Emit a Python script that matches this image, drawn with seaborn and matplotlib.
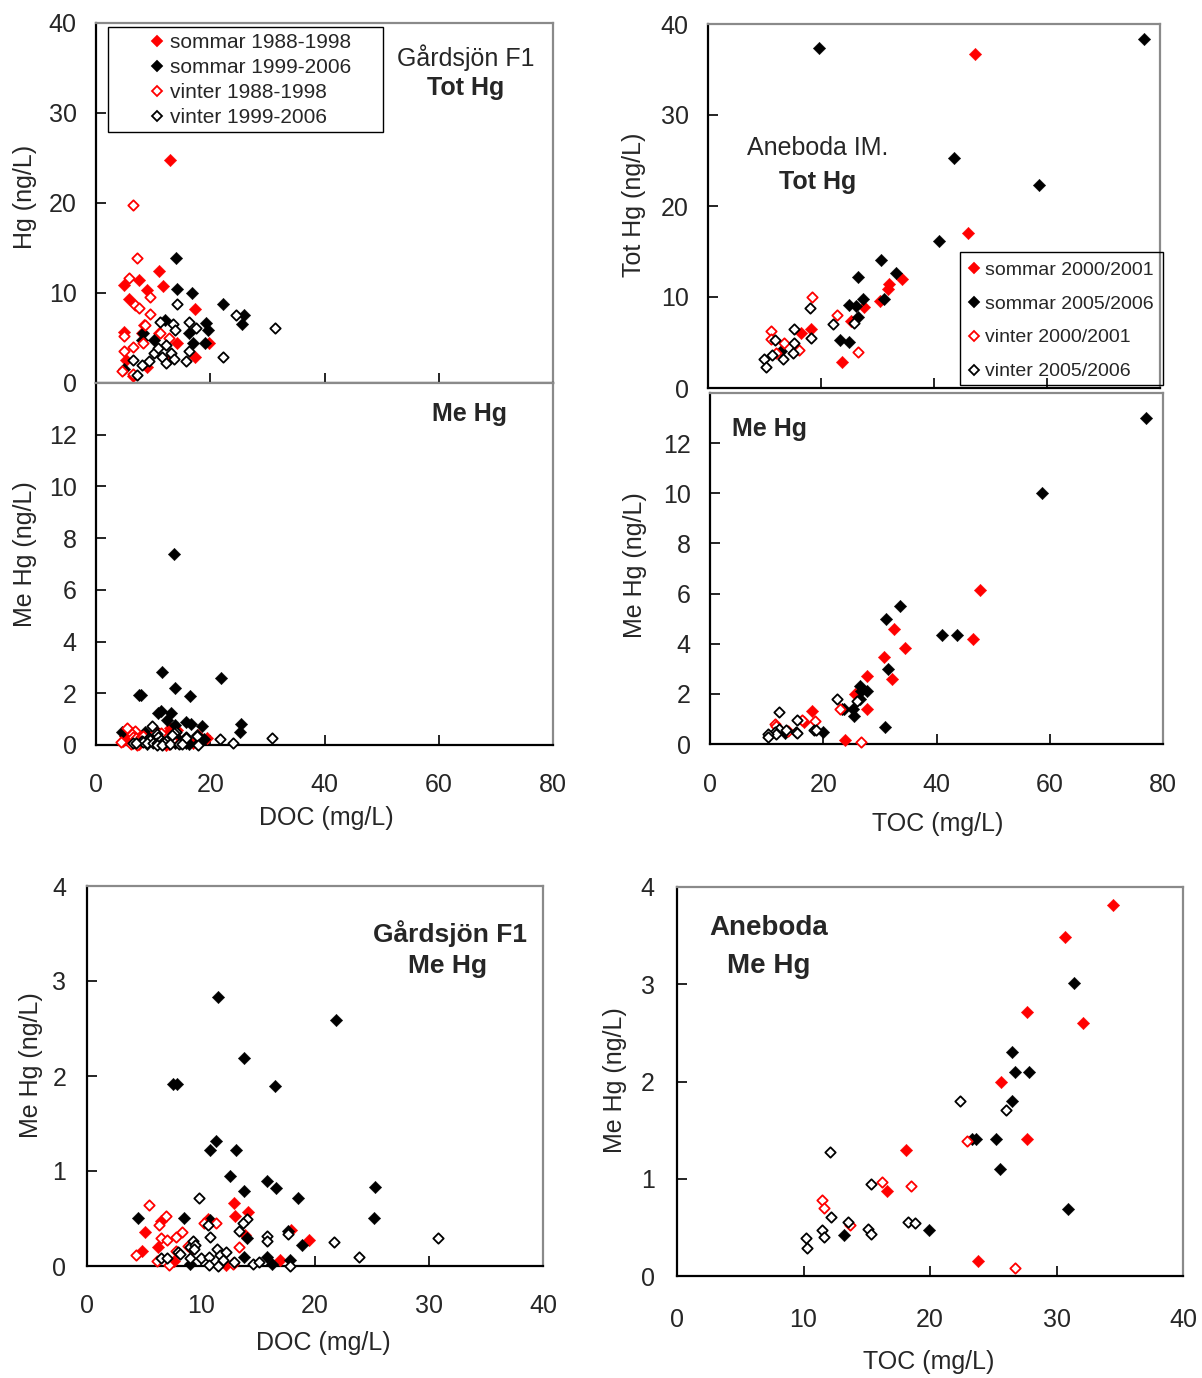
import pandas as pd
import matplotlib
matplotlib.use("Agg")
import matplotlib.pyplot as plt
import seaborn as sns
from matplotlib.lines import Line2D
from matplotlib.patches import Rectangle

# ── Gårdsjön F1: Tot Hg vs DOC ────────────────────────────────────────────────
gf_tot_s88_doc = [12.9, 11.0, 7.5, 4.9, 11.7, 8.9, 5.7, 17.3, 4.9, 8.1, 11.0, 8.4, 19.8, 14.2, 17.4, 5.2, 6.4, 12.5, 9.0]
gf_tot_s88_hg = [24.8, 12.4, 11.4, 10.9, 10.8, 10.3, 9.3, 8.2, 5.7, 5.5, 5.5, 6.4, 4.4, 4.4, 2.9, 2.5, 0.8, 2.5, 1.8]
gf_tot_s99_doc = [14.0, 14.2, 16.8, 22.2, 25.9, 25.5, 19.3, 19.6, 12.0, 8.2, 16.2, 16.9, 19.1, 10.1, 4.9, 8.0]
gf_tot_s99_hg = [13.9, 10.4, 10.0, 8.8, 7.6, 6.6, 6.7, 5.9, 7.0, 5.5, 5.5, 4.4, 4.4, 4.8, 1.6, 4.8]
gf_tot_v88_doc = [6.4, 7.2, 5.8, 9.5, 6.9, 7.5, 9.5, 8.5, 4.9, 6.4, 4.9, 8.2, 11.2, 4.6, 12.8, 6.5]
gf_tot_v88_hg = [19.8, 13.9, 11.7, 9.6, 8.7, 8.3, 7.7, 6.4, 5.2, 4.0, 3.6, 4.4, 5.5, 1.3, 5.0, 1.0]
gf_tot_v99_doc = [14.2, 24.5, 31.4, 16.2, 11.2, 13.4, 13.9, 22.2, 15.7, 17.5, 16.2, 6.4, 8.1, 9.3, 10.1, 11.5, 12.2, 13.2, 13.6, 10.8, 12.2, 7.1]
gf_tot_v99_hg = [8.8, 7.6, 6.1, 6.8, 6.8, 6.6, 5.9, 2.9, 2.4, 6.1, 3.5, 2.6, 2.0, 2.4, 3.3, 2.9, 2.2, 3.3, 2.7, 3.9, 4.2, 0.9]

# ── Gårdsjön F1: Me Hg vs DOC ─────────────────────────────────────────────────
gf_me_s88_doc = [5.1, 4.8, 6.2, 6.5, 12.9, 13.0, 14.1, 10.6, 16.9, 19.5, 17.9, 12.8, 12.2, 13.9, 9.2, 7.6]
gf_me_s88_hg = [0.36, 0.16, 0.20, 0.47, 0.66, 0.53, 0.57, 0.50, 0.06, 0.27, 0.38, 0.03, 0.01, 0.33, 0.18, 0.05]
gf_me_s99_doc = [11.5, 21.8, 13.8, 7.5, 7.9, 16.5, 11.3, 10.8, 13.1, 12.5, 15.8, 16.6, 13.8, 18.5, 25.3, 25.2,
                 4.5, 8.5, 10.8, 14.0, 17.6, 18.9, 13.8, 15.8, 16.2, 17.8, 9.0, 13.6]
gf_me_s99_hg = [2.83, 2.59, 2.19, 1.92, 1.92, 1.89, 1.32, 1.22, 1.22, 0.95, 0.90, 0.82, 0.79, 0.72, 0.83, 0.51,
                0.51, 0.51, 0.48, 0.30, 0.37, 0.22, 0.09, 0.09, 0.02, 0.06, 0.02, 7.4]
gf_me_v88_doc = [5.45, 6.9, 6.3, 6.5, 7.0, 7.8, 8.3, 4.3, 7.2, 6.1, 10.3, 11.3, 13.3, 8.9, 7.8, 12.8]
gf_me_v88_hg = [0.64, 0.53, 0.43, 0.30, 0.27, 0.31, 0.36, 0.12, 0.01, 0.05, 0.45, 0.45, 0.20, 0.21, 0.16, 0.02]
gf_me_v99_doc = [9.8, 10.6, 14.0, 13.7, 13.3, 10.8, 15.8, 15.8, 17.6, 21.7, 30.8, 23.9, 9.0, 9.3, 9.5, 9.4, 8.0,
                 8.2, 6.5, 7.0, 9.0, 10.0, 10.7, 11.4, 11.7, 12.2, 11.9, 10.7, 11.5, 12.9, 14.6, 15.1, 17.8]
gf_me_v99_hg = [0.72, 0.43, 0.50, 0.45, 0.37, 0.31, 0.32, 0.26, 0.34, 0.25, 0.29, 0.09, 0.20, 0.26, 0.22, 0.18, 0.15,
                0.13, 0.08, 0.08, 0.08, 0.08, 0.09, 0.18, 0.12, 0.15, 0.06, 0.01, 0.00, 0.04, 0.02, 0.04, 0.00]

# ── Aneboda IM: Tot Hg vs TOC ─────────────────────────────────────────────────
ab_tot_s00_toc = [47.2, 46.1, 34.3, 32.1, 31.8, 30.5, 27.6, 25.3, 18.2, 16.4, 23.7]
ab_tot_s00_hg = [36.7, 17.0, 12.0, 11.4, 10.9, 9.6, 8.9, 7.4, 6.5, 6.0, 2.9]
ab_tot_s05_toc = [19.7, 77.1, 43.6, 58.6, 40.8, 30.6, 33.3, 26.5, 27.5, 31.2, 25.0, 26.2, 26.6, 23.4, 25.0, 13.0]
ab_tot_s05_hg = [37.4, 38.3, 25.3, 22.3, 16.1, 14.1, 12.6, 12.2, 9.8, 9.8, 9.1, 9.0, 7.8, 5.3, 5.1, 4.1]
ab_tot_v00_toc = [18.4, 22.8, 11.2, 13.5, 16.1, 26.5, 11.1, 12.0]
ab_tot_v00_hg = [10.0, 8.0, 6.3, 5.0, 4.2, 4.0, 5.4, 3.9]
ab_tot_v05_toc = [18.0, 22.2, 25.8, 15.3, 18.3, 11.8, 15.3, 15.0, 13.3, 11.4, 9.9, 10.2]
ab_tot_v05_hg = [8.8, 7.0, 7.1, 6.5, 5.5, 5.3, 5.0, 3.9, 3.2, 3.6, 3.2, 2.3]

# ── Aneboda IM: Me Hg vs TOC ──────────────────────────────────────────────────
ab_me_s00_toc = [34.5, 30.7, 27.7, 32.1, 25.6, 27.7, 18.1, 16.6, 23.8, 47.6, 32.5, 46.4]
ab_me_s00_hg = [3.81, 3.49, 2.71, 2.60, 2.00, 1.41, 1.30, 0.87, 0.15, 6.15, 4.60, 4.20]
ab_me_s05_toc = [31.4, 26.5, 26.7, 27.8, 26.5, 25.2, 23.3, 23.6, 25.5, 30.9, 19.9, 13.2, 77.0, 58.6, 33.5, 31.1, 40.9, 43.6]
ab_me_s05_hg = [3.01, 2.30, 2.10, 2.10, 1.80, 1.41, 1.41, 1.41, 1.10, 0.69, 0.47, 0.42, 13.0, 10.0, 5.5, 4.97, 4.33, 4.33]
ab_me_v00_toc = [22.9, 16.2, 18.5, 11.5, 11.6, 13.7, 26.7]
ab_me_v00_hg = [1.39, 0.97, 0.93, 0.78, 0.70, 0.52, 0.08]
ab_me_v05_toc = [22.4, 26.0, 12.1, 15.3, 12.2, 13.5, 15.1, 15.3, 18.3, 18.8, 11.5, 11.6, 10.2, 10.3]
ab_me_v05_hg = [1.80, 1.71, 1.28, 0.95, 0.61, 0.56, 0.48, 0.43, 0.56, 0.54, 0.47, 0.40, 0.39, 0.29]

gf_labels = ["sommar 1988-1998", "sommar 1999-2006", "vinter 1988-1998", "vinter 1999-2006"]
ab_labels = ["sommar 2000/2001", "sommar 2005/2006", "vinter 2000/2001", "vinter 2005/2006"]

# series order: summer red, summer black, winter red (open), winter black (open)
STYLES = [("#ff0000", True), ("black", True), ("#ff0000", False), ("black", False)]

gf_tot = [(gf_tot_s88_doc, gf_tot_s88_hg), (gf_tot_s99_doc, gf_tot_s99_hg),
          (gf_tot_v88_doc, gf_tot_v88_hg), (gf_tot_v99_doc, gf_tot_v99_hg)]
gf_me = [(gf_me_s88_doc, gf_me_s88_hg), (gf_me_s99_doc, gf_me_s99_hg),
         (gf_me_v88_doc, gf_me_v88_hg), (gf_me_v99_doc, gf_me_v99_hg)]
ab_tot = [(ab_tot_s00_toc, ab_tot_s00_hg), (ab_tot_s05_toc, ab_tot_s05_hg),
          (ab_tot_v00_toc, ab_tot_v00_hg), (ab_tot_v05_toc, ab_tot_v05_hg)]
ab_me = [(ab_me_s00_toc, ab_me_s00_hg), (ab_me_s05_toc, ab_me_s05_hg),
         (ab_me_v00_toc, ab_me_v00_hg), (ab_me_v05_toc, ab_me_v05_hg)]

# ── Figure setup ──────────────────────────────────────────────────────────────
sns.set_theme(style="white")
plt.rcParams["font.family"] = ["Liberation Sans", "DejaVu Sans"]

W, H = 1202, 1378
fig = plt.figure(figsize=(W / 100, H / 100), dpi=100)


def add_ax(l, t, r, b):
    return fig.add_axes([l / W, 1 - b / H, (r - l) / W, (b - t) / H])


def ftext(x, y, s, **kw):
    kw.setdefault("ha", "center")
    kw.setdefault("va", "center")
    kw.setdefault("fontsize", 18)
    fig.text(x / W, 1 - y / H, s, **kw)


def draw(ax, series, xlim, ylim):
    for (xs, ys), (col, filled) in zip(series, STYLES):
        df = pd.DataFrame({"x": xs, "y": ys})
        df = df[(df.x <= xlim[1]) & (df.y <= ylim[1])]
        if filled:
            sns.scatterplot(data=df, x="x", y="y", ax=ax, marker="D", s=40, color=col,
                            edgecolor=col, linewidth=0.3, clip_on=False, zorder=3)
        else:
            sns.scatterplot(data=df, x="x", y="y", ax=ax, marker="D", s=28, color="white",
                            edgecolor=col, linewidth=1.3, clip_on=False, zorder=4)


def style(ax, xlim, ylim, xticks, yticks, xlab=True, xpad=18, ypad=14):
    ax.set_xlim(xlim)
    ax.set_ylim(ylim)
    ax.set_xticks(xticks)
    ax.set_yticks(yticks)
    ax.set_xlabel("")
    ax.set_ylabel("")
    ax.tick_params(direction="in", length=7, width=1.2, color="black", labelsize=18)
    ax.tick_params(axis="x", pad=xpad, labelbottom=xlab, bottom=True)
    ax.tick_params(axis="y", pad=ypad, left=True)
    for sp in ax.spines.values():
        sp.set_color("#8a8a8a")
        sp.set_linewidth(1.6)
    ax.spines["left"].set_color("black")
    ax.spines["bottom"].set_color("black")
    ax.set_facecolor("white")


def legend_box(ax, labels, x0, y0, fs, spacing, rect):
    handles = []
    for col, filled in STYLES:
        handles.append(Line2D([], [], ls="none", marker="D", markersize=5.5,
                              markerfacecolor=col if filled else "white",
                              markeredgecolor=col, markeredgewidth=1.3))
    ax.legend(handles, labels, loc="upper left", bbox_to_anchor=(x0 / W, 1 - y0 / H),
              bbox_transform=fig.transFigure, frameon=False, fontsize=fs, borderpad=0,
              borderaxespad=0, handlelength=0.6, handletextpad=0.3, labelspacing=spacing)
    l, t, r, b = rect
    fig.patches.append(Rectangle((l / W, 1 - b / H), (r - l) / W, (b - t) / H, fill=False,
                                 edgecolor="black", linewidth=1.0, transform=fig.transFigure))


# ── Gårdsjön F1, Tot Hg (top left) ────────────────────────────────────────────
ax = add_ax(96, 23, 553, 383)
draw(ax, gf_tot, (0, 80), (0, 40))
style(ax, (0, 80), (0, 40), [0, 20, 40, 60, 80], [0, 10, 20, 30, 40], xlab=False)
legend_box(ax, gf_labels, 151, 33, 15, 0.29, (108, 27, 383, 132))
ftext(466, 58, "Gårdsjön F1")
ftext(466, 88, "Tot Hg", fontweight="bold")
ftext(25, 197, "Hg (ng/L)", rotation=90)

# ── Gårdsjön F1, Me Hg (middle left) ──────────────────────────────────────────
ax = add_ax(96, 383, 553, 745)
draw(ax, gf_me, (0, 80), (0, 14))
style(ax, (0, 80), (0, 14), [0, 20, 40, 60, 80], [0, 2, 4, 6, 8, 10, 12], xpad=20)
ftext(470, 414, "Me Hg", fontweight="bold")
ftext(25, 554, "Me Hg (ng/L)", rotation=90)
ftext(326, 818, "DOC (mg/L)")

# ── Aneboda IM, Tot Hg (top right) ────────────────────────────────────────────
ax = add_ax(708, 24, 1160, 388)
draw(ax, ab_tot, (0, 80), (0, 40))
style(ax, (0, 80), (0, 40), [0, 20, 40, 60, 80], [0, 10, 20, 30, 40], xlab=False)
legend_box(ax, ab_labels, 968, 261, 14, 0.84, (960, 252, 1163, 385))
ftext(818, 148, "Aneboda IM.")
ftext(818, 182, "Tot Hg", fontweight="bold")
ftext(634, 205, "Tot Hg (ng/L)", rotation=90)

# ── Aneboda IM, Me Hg (middle right) ──────────────────────────────────────────
ax = add_ax(710, 393, 1163, 744)
draw(ax, ab_me, (0, 80), (0, 14))
style(ax, (0, 80), (0, 14), [0, 20, 40, 60, 80], [0, 2, 4, 6, 8, 10, 12], xpad=21)
ftext(770, 429, "Me Hg", fontweight="bold")
ftext(635, 565, "Me Hg (ng/L)", rotation=90)
ftext(938, 824, "TOC (mg/L)")

# ── Gårdsjön F1, Me Hg zoom (bottom left) ─────────────────────────────────────
ax = add_ax(87, 886, 543, 1266)
draw(ax, gf_me, (0, 40), (0, 4))
style(ax, (0, 40), (0, 4), [0, 10, 20, 30, 40], [0, 1, 2, 3, 4], xpad=20, ypad=15)
ftext(450, 934, "Gårdsjön F1", fontweight="bold", fontsize=19)
ftext(448, 966, "Me Hg", fontweight="bold", fontsize=19)
ftext(31, 1065, "Me Hg (ng/L)", rotation=90)
ftext(323, 1343, "DOC (mg/L)")

# ── Aneboda IM, Me Hg zoom (bottom right) ─────────────────────────────────────
ax = add_ax(677, 887, 1183, 1276)
draw(ax, ab_me, (0, 40), (0, 4))
style(ax, (0, 40), (0, 4), [0, 10, 20, 30, 40], [0, 1, 2, 3, 4], xpad=23, ypad=16)
ftext(769, 928, "Aneboda", fontweight="bold", fontsize=20)
ftext(769, 966, "Me Hg", fontweight="bold", fontsize=20)
ftext(615, 1080, "Me Hg (ng/L)", rotation=90)
ftext(929, 1362, "TOC (mg/L)")

fig.savefig("out.png", dpi=100)
